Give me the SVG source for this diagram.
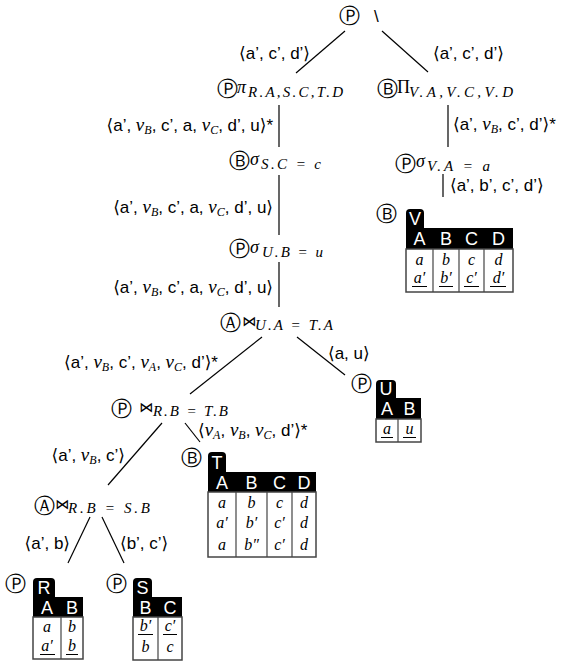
<svg xmlns="http://www.w3.org/2000/svg" width="566" height="665" viewBox="0 0 566 665">
<style>
text{fill:#000}
.s{font-family:"Liberation Sans",Arial,"DejaVu Sans",sans-serif;font-size:17px}
.m{font-family:"Liberation Serif","DejaVu Serif",serif;font-style:italic;font-size:19px}
.sb{font-family:"Liberation Serif","DejaVu Serif",serif;font-style:italic;font-size:12px}
.ms{font-family:"Liberation Serif","DejaVu Serif",serif;font-style:italic;font-size:15px}
.c{font-family:"DejaVu Serif","DejaVu Sans",serif;font-size:21px;text-anchor:middle}
.op{font-family:"DejaVu Sans",sans-serif;font-size:14px}
.up{font-family:"Liberation Serif","DejaVu Serif",serif;font-size:18px}
.mg{font-family:"Liberation Serif","DejaVu Serif",serif;font-style:italic;font-size:18px}
.th{font-family:"Liberation Sans",Arial,sans-serif;font-size:18px;fill:#fff;text-anchor:middle}
.td{font-family:"Liberation Serif","DejaVu Serif",serif;font-style:italic;font-size:16px;text-anchor:middle}
.edge{stroke:#000;stroke-width:1.2;fill:none}
.blk{fill:#000}
.body{fill:#fff;stroke:#444;stroke-width:1.5}
.div{stroke:#444;stroke-width:1.2}
.ul{stroke:#000;stroke-width:1}
</style>
<g id="connectors">
<line class="edge" x1="345" y1="31" x2="296" y2="73"/>
<line class="edge" x1="382" y1="31" x2="428" y2="72"/>
<line class="edge" x1="279" y1="105" x2="279" y2="147"/>
<line class="edge" x1="448" y1="105" x2="448" y2="147"/>
<line class="edge" x1="443" y1="174" x2="443" y2="197"/>
<line class="edge" x1="279" y1="175" x2="279" y2="235"/>
<line class="edge" x1="279" y1="262" x2="279" y2="307"/>
<line class="edge" x1="262" y1="337" x2="190" y2="394"/>
<line class="edge" x1="297" y1="337" x2="345" y2="375"/>
<line class="edge" x1="162" y1="423" x2="108" y2="485"/>
<line class="edge" x1="185" y1="423" x2="200" y2="442"/>
<line class="edge" x1="90" y1="517" x2="68" y2="563"/>
<line class="edge" x1="102" y1="517" x2="124" y2="563"/>
<text class="s" x="310" y="59" text-anchor="end">⟨a’, c’, d’⟩</text>
<text class="s" x="433" y="59">⟨a’, c’, d’⟩</text>
<text class="s" x="273" y="131" text-anchor="end">⟨a’, <tspan class="m">v</tspan><tspan class="sb" dy="3">B</tspan><tspan dy="-3">, c’, a, </tspan><tspan class="m">v</tspan><tspan class="sb" dy="3">C</tspan><tspan dy="-3">, d’, u⟩*</tspan></text>
<text class="s" x="453" y="130">⟨a’, <tspan class="m">v</tspan><tspan class="sb" dy="3">B</tspan><tspan dy="-3">, c’, d’⟩*</tspan></text>
<text class="s" x="450" y="191">⟨a’, b’, c’, d’⟩</text>
<text class="s" x="273" y="213" text-anchor="end">⟨a’, <tspan class="m">v</tspan><tspan class="sb" dy="3">B</tspan><tspan dy="-3">, c’, a, </tspan><tspan class="m">v</tspan><tspan class="sb" dy="3">C</tspan><tspan dy="-3">, d’, u⟩</tspan></text>
<text class="s" x="273" y="293" text-anchor="end">⟨a’, <tspan class="m">v</tspan><tspan class="sb" dy="3">B</tspan><tspan dy="-3">, c’, a, </tspan><tspan class="m">v</tspan><tspan class="sb" dy="3">C</tspan><tspan dy="-3">, d’, u⟩</tspan></text>
<text class="s" x="218" y="368" text-anchor="end">⟨a’, <tspan class="m">v</tspan><tspan class="sb" dy="3">B</tspan><tspan dy="-3">, c’, </tspan><tspan class="m">v</tspan><tspan class="sb" dy="3">A</tspan><tspan dy="-3">, </tspan><tspan class="m">v</tspan><tspan class="sb" dy="3">C</tspan><tspan dy="-3">, d’⟩*</tspan></text>
<text class="s" x="328" y="359">⟨a, u⟩</text>
<text class="s" x="198" y="436">⟨<tspan class="m">v</tspan><tspan class="sb" dy="3">A</tspan><tspan dy="-3">, </tspan><tspan class="m">v</tspan><tspan class="sb" dy="3">B</tspan><tspan dy="-3">, </tspan><tspan class="m">v</tspan><tspan class="sb" dy="3">C</tspan><tspan dy="-3">, d’⟩*</tspan></text>
<text class="s" x="125" y="461" text-anchor="end">⟨a’, <tspan class="m">v</tspan><tspan class="sb" dy="3">B</tspan><tspan dy="-3">, c’⟩</tspan></text>
<text class="s" x="70" y="549" text-anchor="end">⟨a’, b⟩</text>
<text class="s" x="120" y="549">⟨b’, c’⟩</text>
</g>
<g id="root">
<text class="c" x="349.5" y="22.5">Ⓟ</text>
<text class="s" x="374" y="22" font-size="19">\</text>
</g>
<g id="proj-left">
<text class="c" x="227" y="95.5">Ⓟ</text>
<text class="mg" x="237" y="93">π</text>
<text class="ms" x="248" y="97" textLength="95" lengthAdjust="spacing">R.A,S.C,T.D</text>
</g>
<g id="proj-right">
<text class="c" x="387" y="95.5">Ⓑ</text>
<text class="up" x="397" y="93">Π</text>
<text class="ms" x="409" y="97" textLength="104" lengthAdjust="spacing">V.A,V.C,V.D</text>
</g>
<g id="sel-sc">
<text class="c" x="239.5" y="167.5">Ⓑ</text>
<text class="mg" x="250" y="165">σ</text>
<text class="ms" x="261" y="169" textLength="60" lengthAdjust="spacing">S.C = c</text>
</g>
<g id="sel-ub">
<text class="c" x="239.5" y="255.5">Ⓟ</text>
<text class="mg" x="250" y="253">σ</text>
<text class="ms" x="262" y="257" textLength="61" lengthAdjust="spacing">U.B = u</text>
</g>
<g id="sel-va">
<text class="c" x="405" y="170.5">Ⓟ</text>
<text class="mg" x="416" y="167">σ</text>
<text class="ms" x="427" y="171" textLength="63" lengthAdjust="spacing">V.A = a</text>
</g>
<g id="join-ua">
<text class="c" x="230" y="329.5">Ⓐ</text>
<text class="op" x="242" y="326">⋈</text>
<text class="ms" x="255" y="330" textLength="78" lengthAdjust="spacing">U.A = T.A</text>
</g>
<g id="join-rt">
<text class="c" x="121.5" y="415.5">Ⓟ</text>
<text class="op" x="139" y="412">⋈</text>
<text class="ms" x="153" y="416" textLength="75" lengthAdjust="spacing">R.B = T.B</text>
</g>
<g id="join-rs">
<text class="c" x="44.5" y="512.5">Ⓐ</text>
<text class="op" x="55" y="509">⋈</text>
<text class="ms" x="68" y="513" textLength="82" lengthAdjust="spacing">R.B = S.B</text>
</g>
<g id="table-V">
<text class="c" x="386" y="220.5">Ⓑ</text>
<path class="blk" d="M406,229V213Q406,209 410,209H420Q424,209 424,213V229Z"/>
<rect class="blk" x="406" y="228" width="107" height="21"/>
<text class="th" x="415" y="225">V</text>
<text class="th" x="419.5" y="245">A</text><text class="th" x="446" y="245">B</text><text class="th" x="471.5" y="245">C</text><text class="th" x="498.5" y="245">D</text>
<rect class="body" x="406" y="249" width="107" height="43"/>
<line class="div" x1="433" y1="249" x2="433" y2="292"/><line class="div" x1="459" y1="249" x2="459" y2="292"/><line class="div" x1="484" y1="249" x2="484" y2="292"/>
<text class="td" x="419.5" y="265">a</text><text class="td" x="446" y="265">b</text><text class="td" x="471.5" y="265">c</text><text class="td" x="498.5" y="265">d</text>
<text class="td" x="419.5" y="283">a′</text><text class="td" x="446" y="283">b′</text><text class="td" x="471.5" y="283">c′</text><text class="td" x="498.5" y="283">d′</text>
<line class="ul" x1="412" y1="286.5" x2="427" y2="286.5"/><line class="ul" x1="439" y1="286.5" x2="453" y2="286.5"/><line class="ul" x1="464" y1="286.5" x2="479" y2="286.5"/><line class="ul" x1="490" y1="286.5" x2="506" y2="286.5"/>
</g>
<g id="table-U">
<text class="c" x="361.5" y="390.5">Ⓟ</text>
<path class="blk" d="M376,399V384Q376,380 380,380H392Q396,380 396,384V399Z"/>
<rect class="blk" x="376" y="398" width="45" height="21"/>
<text class="th" x="386" y="395">U</text>
<text class="th" x="387" y="415">A</text><text class="th" x="409.5" y="415">B</text>
<rect class="body" x="376" y="419" width="45" height="23"/>
<line class="div" x1="398" y1="419" x2="398" y2="442"/>
<text class="td" x="387" y="434">a</text><text class="td" x="409.5" y="434">u</text>
<line class="ul" x1="381" y1="437.5" x2="393" y2="437.5"/><line class="ul" x1="403" y1="437.5" x2="416" y2="437.5"/>
</g>
<g id="table-T">
<text class="c" x="191.5" y="464.5">Ⓑ</text>
<path class="blk" d="M208,473V456Q208,452 212,452H222Q226,452 226,456V473Z"/>
<rect class="blk" x="208" y="472" width="108" height="20"/>
<text class="th" x="217" y="469">T</text>
<text class="th" x="222" y="488.5">A</text><text class="th" x="251.5" y="488.5">B</text><text class="th" x="279.5" y="488.5">C</text><text class="th" x="304" y="488.5">D</text>
<rect class="body" x="208" y="492" width="108" height="65"/>
<line class="div" x1="236" y1="492" x2="236" y2="557"/><line class="div" x1="267" y1="492" x2="267" y2="557"/><line class="div" x1="292" y1="492" x2="292" y2="557"/>
<text class="td" x="222" y="508">a</text><text class="td" x="251.5" y="508">b</text><text class="td" x="279.5" y="508">c</text><text class="td" x="304" y="508">d</text>
<text class="td" x="222" y="528">a′</text><text class="td" x="251.5" y="528">b′</text><text class="td" x="279.5" y="528">c′</text><text class="td" x="304" y="528">d</text>
<text class="td" x="222" y="550">a</text><text class="td" x="251.5" y="550">b″</text><text class="td" x="279.5" y="550">c′</text><text class="td" x="304" y="550">d</text>
</g>
<g id="table-R">
<text class="c" x="15" y="590.5">Ⓟ</text>
<path class="blk" d="M33,598V582Q33,578 37,578H51Q55,578 55,582V598Z"/>
<rect class="blk" x="33" y="597" width="50" height="20"/>
<text class="th" x="44" y="594">R</text>
<text class="th" x="47" y="613.5">A</text><text class="th" x="72" y="613.5">B</text>
<rect class="body" x="33" y="617" width="50" height="42"/>
<line class="div" x1="61" y1="617" x2="61" y2="659"/>
<text class="td" x="47" y="632">a</text><text class="td" x="72" y="632">b</text>
<text class="td" x="47" y="651">a′</text><text class="td" x="72" y="651">b</text>
<line class="ul" x1="40" y1="654.5" x2="55" y2="654.5"/><line class="ul" x1="66" y1="654.5" x2="78" y2="654.5"/>
</g>
<g id="table-S">
<text class="c" x="116.5" y="590.5">Ⓟ</text>
<path class="blk" d="M133,598V582Q133,578 137,578H148Q152,578 152,582V598Z"/>
<rect class="blk" x="133" y="597" width="49" height="20"/>
<text class="th" x="142.5" y="594">S</text>
<text class="th" x="145.5" y="613.5">B</text><text class="th" x="170" y="613.5">C</text>
<rect class="body" x="133" y="617" width="49" height="43"/>
<line class="div" x1="158" y1="617" x2="158" y2="660"/>
<text class="td" x="145.5" y="631">b′</text><text class="td" x="170" y="631">c′</text>
<text class="td" x="145.5" y="652">b</text><text class="td" x="170" y="652">c</text>
<line class="ul" x1="138" y1="634.5" x2="153" y2="634.5"/><line class="ul" x1="163" y1="634.5" x2="177" y2="634.5"/>
</g>
</svg>
